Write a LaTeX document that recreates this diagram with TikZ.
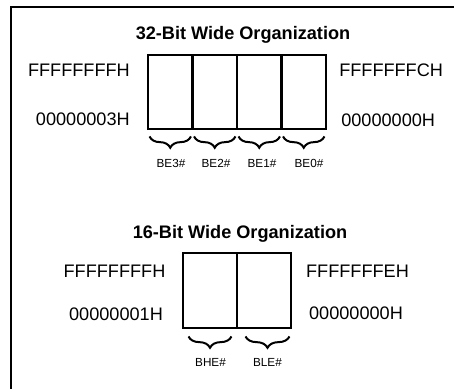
\documentclass[tikz,border=0pt]{standalone}
\usepackage{fontspec}
\setmainfont{Liberation Sans}
\usetikzlibrary{decorations.pathreplacing}
\begin{document}
\begin{tikzpicture}[x=0.75pt,y=-0.75pt,
  frame/.style={line width=1.5pt},
  cell/.style={draw,line width=2.2pt,minimum width=44.5*0.75pt,minimum height=74*0.75pt,inner sep=0pt},
  wcell/.style={draw,line width=2.2pt,minimum width=54*0.75pt,minimum height=75*0.75pt,inner sep=0pt},
  title/.style={font=\fontsize{13.6}{15}\selectfont\bfseries,inner sep=0pt},
  addr/.style={font=\fontsize{13.6}{15}\selectfont,inner sep=0pt},
  lane/.style={font=\fontsize{8.8}{10}\selectfont,inner sep=0pt},
  bytebrace/.style={decorate,decoration={brace,mirror,amplitude=8.5pt},line width=1.5pt}]
\useasboundingbox (0,0) rectangle (454,389);
% open frame: top and left edges only
\coordinate (ftr) at (454,7);
\coordinate (ftl) at (11,7);
\coordinate (fbl) at (11,389);
\draw[frame] (ftr) -- (ftl) -- (fbl);

% ---- 32-bit wide organization ----
\node[title,anchor=base] (t32) at (243,40) {32-Bit Wide Organization};
\node[cell] (c3) at (170.25,92) {};
\node[cell] (c2) at (214.75,92) {};
\node[cell] (c1) at (259.25,92) {};
\node[cell] (c0) at (303.75,92) {};
\node[addr,anchor=base east] (a32hl) at (130,76) {FFFFFFFFH};
\node[addr,anchor=base east] (a32ll) at (130,125) {00000003H};
\node[addr,anchor=base west] (a32hr) at (339,76) {FFFFFFFCH};
\node[addr,anchor=base west] (a32lr) at (341,126) {00000000H};
\foreach \c/\t/\x in {c3/BE3\#/171,c2/BE2\#/216,c1/BE1\#/262,c0/BE0\#/309}{
  \draw[bytebrace] ([xshift=3*0.75pt,yshift=-6*0.75pt]\c.south west) -- ([xshift=-3*0.75pt,yshift=-6*0.75pt]\c.south east);
  \node[lane,anchor=base] (l\c) at (\x,167) {\t};
}

% ---- 16-bit wide organization ----
\node[title,anchor=base] (t16) at (240,238) {16-Bit Wide Organization};
\node[wcell] (h1) at (210,290.5) {};
\node[wcell] (h0) at (264,290.5) {};
\node[addr,anchor=base] (a16hl) at (114.5,277) {FFFFFFFFH};
\node[addr,anchor=base] (a16ll) at (116,320) {00000001H};
\node[addr,anchor=base] (a16hr) at (357.5,277) {FFFFFFFEH};
\node[addr,anchor=base] (a16lr) at (356,319) {00000000H};
\draw[bytebrace] ([xshift=7*0.75pt,yshift=-7*0.75pt]h1.south west) -- ([xshift=-7*0.75pt,yshift=-7*0.75pt]h1.south east);
\draw[bytebrace] ([xshift=10*0.75pt,yshift=-7*0.75pt]h0.south west) -- ([xshift=-3*0.75pt,yshift=-7*0.75pt]h0.south east);
\node[lane,anchor=base] (lbhe) at (210.5,366) {BHE\#};
\node[lane,anchor=base] (lble) at (267.5,366) {BLE\#};
\end{tikzpicture}
\end{document}
